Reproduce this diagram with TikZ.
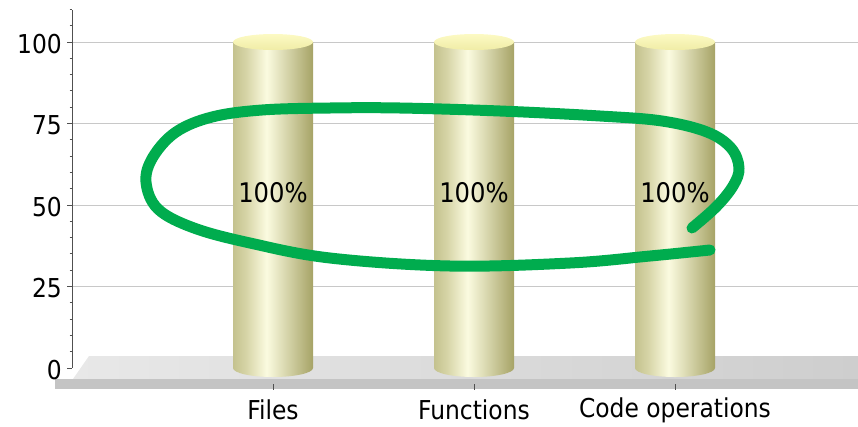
\documentclass[tikz,border=0pt]{standalone}
\usepackage{fontspec}
\newfontfamily\chartfont{DejaVu Sans Condensed}
\definecolor{cylL}{RGB}{196,194,142}
\definecolor{cylLL}{RGB}{214,212,166}
\definecolor{cylM}{RGB}{251,251,224}
\definecolor{cylR}{RGB}{166,163,102}
\definecolor{capTop}{RGB}{252,250,196}
\definecolor{capBot}{RGB}{240,236,166}
\definecolor{gridgray}{RGB}{200,200,200}
\definecolor{floorL}{RGB}{232,232,232}
\definecolor{floorR}{RGB}{206,206,206}
\definecolor{floorEdge}{RGB}{196,196,196}
\definecolor{axisgray}{RGB}{80,80,80}
\definecolor{markgreen}{RGB}{0,172,78}
% the path is mapped onto the middle half (25bp..75bp) of the shading
\pgfdeclarehorizontalshading{cylbody}{100bp}{color(0bp)=(cylL); color(25bp)=(cylL); color(33bp)=(cylLL); color(46bp)=(cylM); color(75bp)=(cylR); color(100bp)=(cylR)}
\tikzset{
  grid line/.style={draw=gridgray, line width=1pt},
  axis line/.style={draw=axisgray, line width=1pt},
  tick label/.style={font=\chartfont\fontsize{26}{26}\selectfont, anchor=east, inner sep=0pt},
  cat label/.style={font=\chartfont\fontsize{26}{26}\selectfont, inner sep=0pt},
  value label/.style={font=\chartfont\fontsize{27}{27}\selectfont, inner sep=0pt},
  marker loop/.style={draw=markgreen, line width=11pt, line cap=round, line join=round},
}
\begin{document}
\begin{tikzpicture}[x=1pt, y=-1pt]
\useasboundingbox (0,0) rectangle (858,426);

% horizontal grid lines at 25, 50, 75, 100
\foreach \v in {25,50,75,100}
  \draw[grid line] (72,{368-3.26*\v}) -- (858,{368-3.26*\v});

% floor of the chart
\shade[left color=floorL, right color=floorR] (89,356) -- (858,356) -- (858,379) -- (73,379) -- cycle;
\fill[floorEdge] (55,379) rectangle (858,389);

% category ticks below the floor
\foreach \cx in {273,474,675}
  \draw[axis line] (\cx,384) -- (\cx,390);

% cylinders
\foreach \cx/\nm in {273/files,474/funcs,675/codeops}{
  \shade[shading=cylbody] (\cx-40,42) -- (\cx-40,368)
     arc[start angle=180, end angle=0, x radius=40, y radius=9]
     -- (\cx+40,42) -- cycle;
  \shade[top color=capTop, bottom color=capBot] (\cx,42) ellipse[x radius=40, y radius=8];
  \coordinate (\nm) at (\cx,193);
}

% value axis with major and minor ticks
\draw[axis line] (72,10) -- (72,368);
\foreach \v in {0,25,50,75,100}
  \draw[axis line] (67,{368-3.26*\v}) -- (72,{368-3.26*\v});
\foreach \v in {5,10,15,20,30,35,40,45,55,60,65,70,80,85,90,95,105,110}
  \draw[axis line] (69.5,{368-3.26*\v}) -- (72,{368-3.26*\v});
\foreach \v in {0,25,50,75,100}
  \node[tick label] (t\v) at (62,{370-3.26*\v}) {\v};

% value labels inside the cylinders
\node[value label] (vfiles) at (files) {100\%};
\node[value label] (vfuncs) at (funcs) {100\%};
\node[value label] (vcode) at (codeops) {100\%};

% category labels
\node[cat label] (lfiles) at (273,410) {Files};
\node[cat label] (lfuncs) at (474,410) {Functions};
\node[cat label] (lcode) at (675,410) {Code operations};

% hand-drawn marker loop
\draw[marker loop] plot[smooth, tension=0.6] coordinates {
  (692,228) (716,207) (733,186) (739,168) (731,148) (707,132) (662,121)
  (600,116) (500,111) (400,108) (330,108) (262,110) (212,117) (176,132)
  (153,157) (146,182) (158,209) (194,228) (250,243) (330,258) (450,266)
  (570,263) (650,256) (710,250)};
\end{tikzpicture}
\end{document}
